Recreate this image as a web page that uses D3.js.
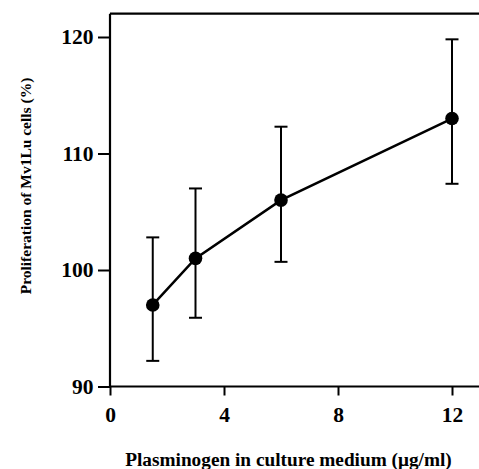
<!DOCTYPE html>
<html>
<head>
<meta charset="utf-8">
<script src="https://cdn.jsdelivr.net/npm/d3@7"></script>
<style>
  html, body { margin: 0; padding: 0; background: #fff; }
  svg { display: block; }
  text { font-family: "Liberation Serif", "Times New Roman", serif; font-weight: bold; fill: #000; }
</style>
</head>
<body>
<svg id="chart" width="479" height="469"></svg>
<script>
// Data
const concentrations = [1.5, 3, 6, 12];
const proliferation = [97, 101, 106, 113];
const errUpper = [102.8, 107.0, 112.3, 119.8];
const errLower = [92.2, 95.9, 100.7, 107.4];
const xTicks = [0, 4, 8, 12];
const yTicks = [90, 100, 110, 120];
const xTitle = "Plasminogen in culture medium (\u03bcg/ml)";
const yTitle = "Proliferation of Mv1Lu cells (%)";

const svg = d3.select("#chart");
const x = d3.scaleLinear().domain([0, 13]).range([110, 480.5]);
const y = d3.scaleLinear().domain([90, 122]).range([386.5, 13.7]);

// frame (top line)
svg.append("line").attr("x1", x(0)).attr("x2", x(13)).attr("y1", y(122)).attr("y2", y(122))
  .attr("stroke", "#000").attr("stroke-width", 2.2);

// axes
const xAxis = d3.axisBottom(x).tickValues(xTicks).tickSize(9).tickPadding(11).tickFormat(d3.format("d"));
const yAxis = d3.axisLeft(y).tickValues(yTicks).tickSize(12).tickPadding(4.5).tickFormat(d3.format("d"));

const gx = svg.append("g").attr("transform", `translate(0,${y(90)})`).call(xAxis);
const gy = svg.append("g").attr("transform", `translate(${x(0)},0)`).call(yAxis);
[gx, gy].forEach(g => {
  g.select(".domain").attr("stroke", "#000").attr("stroke-width", 2.2);
  g.selectAll(".tick line").attr("stroke", "#000").attr("stroke-width", 2);
  g.selectAll(".tick text").style("font-family", '"Liberation Serif", serif')
    .style("font-weight", "bold").style("font-size", "21.5px").attr("fill", "#000");
});
gy.select(".domain").attr("d", `M0,${y(122)}V${y(90)}`);
gx.select(".domain").attr("d", `M${x(0)},0H${x(13)}`);

// error bars
const capW = 6.5;
const eb = svg.append("g").attr("stroke", "#000").attr("stroke-width", 2);
concentrations.forEach((c, i) => {
  eb.append("line").attr("x1", x(c)).attr("x2", x(c)).attr("y1", y(errUpper[i])).attr("y2", y(errLower[i]));
  eb.append("line").attr("x1", x(c) - capW).attr("x2", x(c) + capW).attr("y1", y(errUpper[i])).attr("y2", y(errUpper[i]));
  eb.append("line").attr("x1", x(c) - capW).attr("x2", x(c) + capW).attr("y1", y(errLower[i])).attr("y2", y(errLower[i]));
});

// line
const pts = concentrations.map((c, i) => [c, proliferation[i]]);
svg.append("path").datum(pts)
  .attr("d", d3.line().x(d => x(d[0])).y(d => y(d[1])))
  .attr("fill", "none").attr("stroke", "#000").attr("stroke-width", 2.5);

// points
svg.append("g").selectAll("circle").data(pts).join("circle")
  .attr("cx", d => x(d[0])).attr("cy", d => y(d[1])).attr("r", 6.8).attr("fill", "#000");

// titles
svg.append("text").attr("x", 288.5).attr("y", 466).attr("text-anchor", "middle")
  .style("font-size", "19.3px").text(xTitle);
svg.append("text").attr("transform", `translate(31,186) rotate(-90)`).attr("text-anchor", "middle")
  .style("font-size", "15.5px").text(yTitle);
</script>
</body>
</html>
